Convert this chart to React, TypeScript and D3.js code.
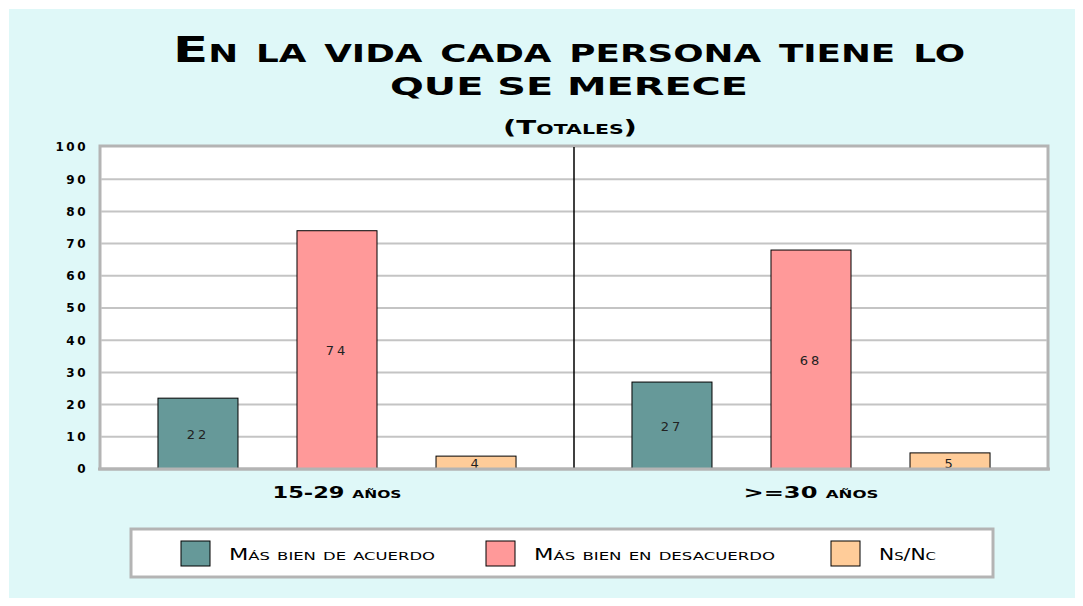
import { useEffect, useRef } from 'react';
import * as d3 from 'd3';

const groups = ['15-29 años', '>=30 años'];
const series = ['Más bien de acuerdo', 'Más bien en desacuerdo', 'Ns/Nc'];
const acuerdo = [22, 27];
const desacuerdo = [74, 68];
const nsnc = [4, 5];
const yTicks = [0, 10, 20, 30, 40, 50, 60, 70, 80, 90, 100];
const colors = ['#669999', '#ff9999', '#ffcc99'];

const FONT = '"DejaVu Sans", Verdana, sans-serif';

const App = () => {
  const svgRef = useRef<SVGSVGElement>(null);

  useEffect(() => {
    if (!svgRef.current) return;
    const svg = d3.select(svgRef.current);
    svg.selectAll('*').remove();

    svg.append('rect').attr('x', 9).attr('y', 9).attr('width', 1069).attr('height', 595).attr('fill', '#dff8f8');

    // titulo
    const title = svg.append('g')
      .style('font-family', FONT)
      .style('font-weight', 'bold')
      .attr('text-anchor', 'middle')
      .attr('fill', '#000');
    title.append('text').attr('x', 569).attr('y', 62).style('font-size', '36px')
      .style('font-variant', 'small-caps')
      .attr('textLength', 792).attr('lengthAdjust', 'spacingAndGlyphs')
      .text('En la vida cada persona tiene lo');
    title.append('text').attr('x', 569).attr('y', 95).style('font-size', '25px')
      .style('text-transform', 'uppercase')
      .attr('textLength', 358).attr('lengthAdjust', 'spacingAndGlyphs')
      .text('que se merece');
    title.append('text').attr('x', 570).attr('y', 134).style('font-size', '20px')
      .style('font-variant', 'small-caps')
      .attr('textLength', 134).attr('lengthAdjust', 'spacingAndGlyphs')
      .text('(Totales)');

    const margin = { left: 100, right: 1048, top: 147, bottom: 469 };

    const x0 = d3.scaleBand().domain(groups).range([margin.left, margin.right]).padding(0);
    const x1 = d3.scaleBand().domain(series).range([0, x0.bandwidth()])
      .paddingInner(0.4245).paddingOuter(0.417);
    const y = d3.scaleLinear().domain([0, 100]).range([margin.bottom, margin.top]);

    // area del grafico
    svg.append('rect')
      .attr('x', margin.left).attr('y', margin.top - 1)
      .attr('width', margin.right - margin.left).attr('height', margin.bottom - margin.top + 1)
      .attr('fill', '#fff').attr('stroke', '#b4b4b4').attr('stroke-width', 3);

    svg.append('g').selectAll('line')
      .data(yTicks.filter(d => d > 0 && d < 100))
      .enter().append('line')
      .attr('x1', margin.left + 1).attr('x2', margin.right - 1)
      .attr('y1', d => y(d)).attr('y2', d => y(d))
      .attr('stroke', '#c4c4c4').attr('stroke-width', 2);

    // separador
    svg.append('line')
      .attr('x1', x0(groups[1])!).attr('x2', x0(groups[1])!)
      .attr('y1', margin.top).attr('y2', margin.bottom)
      .attr('stroke', '#000').attr('stroke-width', 1.5);

    const yAxis = svg.append('g')
      .attr('transform', `translate(${margin.left - 4},0)`)
      .call(d3.axisLeft(y).tickValues(yTicks).tickSize(0).tickPadding(8));
    yAxis.select('.domain').remove();
    yAxis.selectAll('text')
      .style('font-family', FONT).style('font-weight', 'bold').style('font-size', '12px')
      .attr('fill', '#000').attr('letter-spacing', '2.5px');

    const values = [acuerdo, desacuerdo, nsnc];
    const rows = groups.flatMap((g, gi) => series.map((s, si) => ({ g, s, si, v: values[si][gi] })));

    const bars = svg.append('g');
    bars.selectAll('rect')
      .data(rows)
      .enter().append('rect')
      .attr('x', d => x0(d.g)! + x1(d.s)!)
      .attr('y', d => y(d.v))
      .attr('width', x1.bandwidth())
      .attr('height', d => y(0) - y(d.v))
      .attr('fill', d => colors[d.si])
      .attr('stroke', '#000').attr('stroke-width', 1);

    bars.selectAll('text')
      .data(rows)
      .enter().append('text')
      .attr('x', d => x0(d.g)! + x1(d.s)! + x1.bandwidth() / 2)
      .attr('y', d => d.v < 8 ? y(0) - 1 : (y(d.v) + y(0)) / 2 + 5)
      .attr('text-anchor', 'middle')
      .style('font-family', FONT).style('font-size', '13px')
      .attr('letter-spacing', '3px')
      .attr('fill', '#222')
      .text(d => d.v);

    // eje inferior
    svg.append('line')
      .attr('x1', margin.left - 2).attr('x2', margin.right + 2)
      .attr('y1', margin.bottom).attr('y2', margin.bottom)
      .attr('stroke', '#b4b4b4').attr('stroke-width', 3);

    const groupW = [129, 135];
    svg.append('g').selectAll('text')
      .data(groups)
      .enter().append('text')
      .attr('x', d => x0(d)! + x0.bandwidth() / 2)
      .attr('y', 498)
      .attr('text-anchor', 'middle')
      .style('font-family', FONT).style('font-weight', 'bold').style('font-size', '16px')
      .style('font-variant', 'small-caps')
      .attr('textLength', (d, i) => groupW[i]).attr('lengthAdjust', 'spacingAndGlyphs')
      .text(d => d);

    // leyenda
    svg.append('rect').attr('x', 131).attr('y', 529).attr('width', 862).attr('height', 48)
      .attr('fill', '#fff').attr('stroke', '#b4b4b4').attr('stroke-width', 3);
    const legendX = [181, 486, 831];
    const legendW = [206, 241, 57];
    series.forEach((s, i) => {
      svg.append('rect').attr('x', legendX[i]).attr('y', 541).attr('width', 29).attr('height', 25)
        .attr('fill', colors[i]).attr('stroke', '#000').attr('stroke-width', 1);
      svg.append('text').attr('x', legendX[i] + 48).attr('y', 560)
        .style('font-family', FONT).style('font-size', '15px').style('font-variant', 'small-caps')
        .attr('textLength', legendW[i]).attr('lengthAdjust', 'spacingAndGlyphs')
        .text(s);
    });
  }, []);

  return (
    <svg ref={svgRef} width={1083} height={606} style={{ display: 'block', margin: -8 }}></svg>
  );
};

export default App;
